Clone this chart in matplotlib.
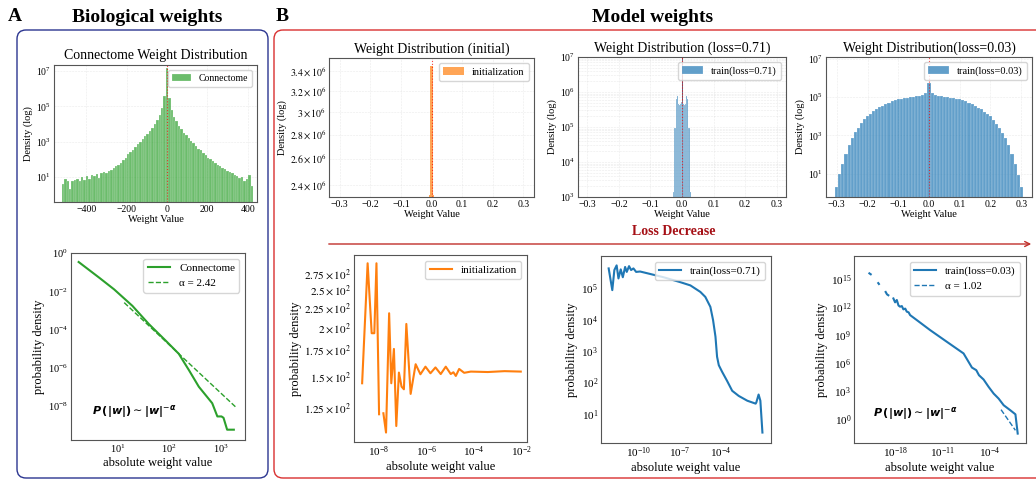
import numpy as np
import matplotlib
matplotlib.use('Agg')
import matplotlib.pyplot as plt
from matplotlib.patches import FancyBboxPatch
from matplotlib.ticker import NullLocator, NullFormatter

plt.rcParams['font.family'] = 'serif'
plt.rcParams['font.serif'] = ['Liberation Serif', 'DejaVu Serif']
plt.rcParams['mathtext.fontset'] = 'stix'

# ---- data: connectome histogram (bin width 12, centred on 0)
conn_centers = np.arange(-516, 421, 12)
conn_counts = [4, 8, 6, 2, 6, 7, 8, 6, 10, 7, 11, 8, 13, 11, 14, 9, 16, 18, 16,
               22, 25, 32, 40, 50, 63, 89, 126, 200, 251, 355, 501, 708, 1000, 1413,
               1995, 2818, 3981, 6310, 10000, 17783, 31623, 79433, 398107,
               15848932,
               316228, 63096, 25119, 14125, 7943, 5012, 3162, 2239, 1585, 1122, 794,
               562, 398, 316, 224, 178, 126, 100, 79, 63, 50, 40, 32, 28, 22, 20, 16,
               13, 11, 9, 10, 6, 8, 13, 3]

# connectome |w| density + power-law fit
conn_abs = [1.76, 4.42, 8.61, 19.5, 40.7, 86.1, 155, 245, 380, 692, 871, 1047, 1148, 1349, 1820]
conn_pdf = [0.339, 0.0513, 0.0126, 1.74e-3, 1.95e-4, 2.69e-5, 5.5e-6, 7.6e-7, 1.05e-7,
            1.45e-8, 2.95e-9, 2.95e-9, 2.5e-9, 6.0e-10, 6.0e-10]
conn_fit_x = [13.5, 1950]
conn_fit_y = [2.57e-3, 9.5e-9]

# model weight histograms
init_centers = [-0.0055, 0.0, 0.0055]
init_counts = [2330000, 3450000, 2330000]
init_widths = [0.003, 0.008, 0.003]

l071_centers = np.arange(-0.027, 0.0271, 0.003)
l071_counts = [1413, 95500, 95500, 631000, 794000, 447000, 417000, 457000, 525000, 437000,
               525000, 457000, 417000, 447000, 794000, 631000, 95500, 95500, 1413]

l003_centers = np.arange(-0.30, 0.3001, 0.01)
l003_counts = [2, 9, 32, 110, 316, 759, 1410, 2510, 4270, 6760, 10000, 13200, 17800, 22900,
               28800, 36300, 43700, 51300, 60300, 69200, 77600, 83200, 89100, 95500, 100000,
               107000, 112000, 120000, 132000, 158000,
               562000,
               155000, 130000, 119000, 111000, 106000, 99000, 94000, 88000, 82000, 77000,
               68000, 59500, 50500, 43000, 35800, 28400, 22500, 17500, 13000, 9800, 6600,
               4150, 2450, 1380, 740, 300, 105, 30, 8, 2]

# |w| densities of the model
init_abs = [2.09e-9, 3.55e-9, 5.25e-9, 6.76e-9, 8.32e-9, 1.07e-8, 1.3e-8, 1.62e-8, 2.09e-8,
            2.82e-8, 3.47e-8, 4.47e-8, 5.62e-8, 7.24e-8, 9.33e-8, 1.17e-7, 1.48e-7, 2.24e-7,
            3.63e-7, 5.75e-7, 9.33e-7, 1.51e-6, 2.45e-6, 4.07e-6, 6.61e-6, 1.07e-5, 1.38e-5,
            1.74e-5, 2.40e-5, 3.89e-5, 7.41e-5, 3.8e-4, 1.9e-3, 9.1e-3]
init_pdf = [143.4, 290.5, 192.5, 192.5, 290.5, 119.5, np.nan, 120.2, 107.3, 216.5, 143.4,
            175.5, 111.5, 152.7, 140.6, 138.4, 203.3, 134.7, 160.4, 151.2, 158.1, 152.1,
            157.4, 151.4, 158.1, 151.4, 153.0, 149.7, 156.0, 152.5, 153.6, 153.2, 154.0, 153.6]

l071_abs = [6.5e-13, 1.2e-12, 1.7e-12, 2.5e-12, 3.4e-12, 5.0e-12, 7.1e-12, 1.05e-11, 1.38e-11,
            2.04e-11, 2.88e-11, 4.27e-11, 6.76e-11, 1.32e-10, 3.09e-10, 6.9e-9, 1.17e-7,
            6.5e-7, 3.5e-6, 8.1e-6, 1.9e-5, 3.0e-5, 4.5e-5, 5.9e-5, 7.9e-5, 1.38e-4, 3.2e-4,
            7.6e-4, 2.3e-3, 9.8e-3, 0.040, 0.045, 0.066, 0.089, 0.126]
l071_pdf = [4.4e5, 8.9e4, 3.9e5, 5.5e5, 2.1e5, 4.1e5, 2.3e5, 4.9e5, 3.4e5, 5.2e5, 3.9e5,
            4.4e5, 3.4e5, 3.5e5, 3.2e5, 2.3e5, 1.6e5, 1.26e5, 7.8e4, 5.4e4, 2.6e4, 9.8e3,
            2.9e3, 660, 355, 219, 112, 54, 37, 26, 21, 23, 41, 26, 2.5]

l003_abs = [1.55e-22, 2.45e-22, 3.0e-22, 3.2e-21, 4.0e-21, 4.5e-21, 4.0e-20, 6.3e-20, 1.0e-19,
            2.0e-19, 5.6e-19, 1.0e-18, 1.8e-18, 3.2e-18, 5.5e-18, 1.0e-17, 1.7e-17, 3.2e-17,
            5.4e-17, 1.0e-16, 1.7e-16, 1.66e-15, 1.6e-13, 4.7e-11, 1.4e-8, 2.45e-7, 1.07e-6,
            2.7e-6, 1.3e-5, 7.2e-5, 4.0e-4, 2.2e-3, 0.0123, 0.12, 0.68, 1.48]
l003_pdf = [4.4e15, 3.5e15, np.nan, 4.0e14, 3.2e14, np.nan, 4.5e13, 2.5e13, 2.0e13, np.nan,
            9.1e12, 3.5e12, 6.2e12, 1.6e12, 1.2e12, 1.4e12, 6.2e11, 7.5e11, 3.5e11, 3.0e11,
            1.5e11, 4.4e10, 3.7e9, 2.1e8, 1.2e7, 3.7e5, 1.95e5, 5.6e4, 1.95e4, 3.2e3, 617,
            178, 34.7, 10, 3.7, 0.032]
l003_fit_x = [5.0e-3, 0.68]
l003_fit_y = [11.7, 0.072]

W, H = 1036, 479
fig = plt.figure(figsize=(W / 100, H / 100), dpi=100)

# background layer in pixel units for the boxes, headings and arrow
bg = fig.add_axes([0, 0, 1, 1])
bg.set_xlim(0, W)
bg.set_ylim(H, 0)
bg.axis('off')
bg.add_patch(FancyBboxPatch((17, 30), 251, 448, boxstyle='round,pad=0,rounding_size=9',
                            fc='none', ec='#2b3590', lw=1.0))
bg.add_patch(FancyBboxPatch((274, 30), 790, 448, boxstyle='round,pad=0,rounding_size=9',
                            fc='none', ec='#d93030', lw=1.0))
bg.text(8, 16, 'A', fontsize=14, fontweight='bold', va='center', ha='left')
bg.text(147, 17, 'Biological weights', fontsize=14, fontweight='bold', va='center', ha='center')
bg.text(276, 16, 'B', fontsize=14, fontweight='bold', va='center', ha='left')
bg.text(653, 17, 'Model weights', fontsize=14, fontweight='bold', va='center', ha='center')
bg.annotate('', xy=(1034, 244), xytext=(326, 244),
            arrowprops=dict(arrowstyle='->', color='#c0302b', lw=1.0, mutation_scale=9))
bg.text(674, 231, 'Loss Decrease', fontsize=10, fontweight='bold', color='#a50f15',
        va='center', ha='center')


def add_ax(x0, y0, x1, y1):
    return fig.add_axes([x0 / W, 1 - y1 / H, (x1 - x0) / W, (y1 - y0) / H])


def style(ax, tick_size):
    for s in ax.spines.values():
        s.set_color('#555555')
        s.set_linewidth(0.8)
    ax.tick_params(which='both', length=0, pad=2, labelsize=tick_size)


def hist_panel(ax, centers, counts, width, color, label, title, leg_size=7.5, edge='white'):
    ax.set_yscale('log')
    ax.bar(centers, counts, width=width, color=color, alpha=0.7, edgecolor=edge,
           linewidth=0.2, label=label)
    ax.axvline(0, color='red', ls=':', lw=0.8, alpha=0.7)
    ax.grid(True, which='both', ls='--', lw=0.4, alpha=0.25)
    ax.set_axisbelow(True)
    ax.set_title(title, fontsize=10, pad=4)
    ax.set_xlabel('Weight Value', fontsize=7.5, labelpad=1)
    ax.set_ylabel('Density (log)', fontsize=7.5, labelpad=2)
    ax.legend(loc='upper right', fontsize=leg_size, fancybox=True, framealpha=0.8)
    style(ax, 7)


# A top
ax = add_ax(54, 65, 257, 202)
hist_panel(ax, conn_centers, conn_counts, 12, 'tab:green', 'Connectome',
           'Connectome Weight Distribution', leg_size=7)
ax.title.set_position((0.5, 1.04))
ax.set_xlim(-560, 446)
ax.set_ylim(0.38, 2.2e7)
ax.set_xticks([-400, -200, 0, 200, 400])
ax.set_yticks([1e1, 1e3, 1e5, 1e7])
ax.yaxis.set_minor_locator(NullLocator())

# A bottom
ax = add_ax(71, 253, 245, 440)
ax.loglog(conn_abs, conn_pdf, color='tab:green', lw=1.5, label='Connectome')
ax.loglog(conn_fit_x, conn_fit_y, color='tab:green', lw=1.0, ls='--', label='α = 2.42')
ax.set_xlim(1.25, 3000)
ax.set_ylim(10 ** -9.76, 10 ** -0.05)
ax.set_xticks([1e1, 1e2, 1e3])
ax.set_yticks([1e0, 1e-2, 1e-4, 1e-6, 1e-8])
ax.xaxis.set_minor_locator(NullLocator())
ax.yaxis.set_minor_locator(NullLocator())
ax.set_xlabel('absolute weight value', fontsize=9, labelpad=1)
ax.set_ylabel('probability density', fontsize=9, labelpad=2)
ax.legend(loc='upper right', fontsize=8)
ax.text(0.12, 0.15, r'$\mathbfit{P}\,\mathbf{(|}\mathbfit{w}\mathbf{|)}\sim\mathbf{|}\mathbfit{w}\mathbf{|}^{-\mathbfit{\alpha}}$',
        transform=ax.transAxes, fontsize=8, math_fontfamily='dejavusans', va='center')
style(ax, 7.5)

# B top row
ax = add_ax(329, 58, 534, 197)
hist_panel(ax, init_centers, init_counts, init_widths, 'tab:orange', 'initialization',
           'Weight Distribution (initial)', edge='none')
ax.set_xlim(-0.335, 0.335)
ax.set_ylim(2.313e6, 3.538e6)
init_ticks = [2.4e6, 2.6e6, 2.8e6, 3.0e6, 3.2e6, 3.4e6]
ax.yaxis.set_minor_locator(NullLocator())
ax.yaxis.set_minor_formatter(NullFormatter())
ax.set_yticks(init_ticks)
ax.set_yticklabels([r'$2.4\times10^{6}$', r'$2.6\times10^{6}$', r'$2.8\times10^{6}$',
                    r'$3\times10^{6}$', r'$3.2\times10^{6}$', r'$3.4\times10^{6}$'])
ax.set_xticks([-0.3, -0.2, -0.1, 0.0, 0.1, 0.2, 0.3])

ax = add_ax(578, 57, 786, 197)
hist_panel(ax, l071_centers, l071_counts, 0.003, 'tab:blue', 'train(loss=0.71)',
           'Weight Distribution (loss=0.71)')
ax.axvline(0, color='#555577', lw=0.7, zorder=0.5)
ax.set_xlim(-0.33, 0.33)
ax.set_ylim(1e3, 1e7)
ax.set_yticks([1e3, 1e4, 1e5, 1e6, 1e7])
ax.set_xticks([-0.3, -0.2, -0.1, 0.0, 0.1, 0.2, 0.3])

ax = add_ax(826, 57, 1032, 197)
hist_panel(ax, l003_centers, l003_counts, 0.01, 'tab:blue', 'train(loss=0.03)',
           'Weight Distribution(loss=0.03)')
ax.set_xlim(-0.335, 0.335)
ax.set_ylim(0.59, 1.26e7)
ax.set_yticks([1e1, 1e3, 1e5, 1e7])
ax.set_xticks([-0.3, -0.2, -0.1, 0.0, 0.1, 0.2, 0.3])

# B bottom row
ax = add_ax(354, 255, 527, 442)
ax.set_xscale('log')
ax.set_yscale('log')
ax.plot(init_abs, init_pdf, color='tab:orange', lw=1.5, label='initialization')
ax.set_xlim(10 ** -9.02, 10 ** -1.78)
ax.set_ylim(101.5, 305)
ax.set_xticks([1e-8, 1e-6, 1e-4, 1e-2])
ax.xaxis.set_minor_locator(NullLocator())
ax.yaxis.set_minor_locator(NullLocator())
ax.yaxis.set_minor_formatter(NullFormatter())
ax.set_yticks([125, 150, 175, 200, 225, 250, 275])
ax.set_yticklabels([r'$1.25\times10^{2}$', r'$1.5\times10^{2}$', r'$1.75\times10^{2}$',
                    r'$2\times10^{2}$', r'$2.25\times10^{2}$', r'$2.5\times10^{2}$',
                    r'$2.75\times10^{2}$'])
ax.set_xlabel('absolute weight value', fontsize=9, labelpad=1)
ax.set_ylabel('probability density', fontsize=9, labelpad=2)
ax.legend(loc='upper right', fontsize=8)
style(ax, 8)

ax = add_ax(601, 256, 771, 443)
ax.loglog(l071_abs, l071_pdf, color='tab:blue', lw=1.5, label='train(loss=0.71)')
ax.set_xlim(10 ** -12.75, 10 ** -0.27)
ax.set_ylim(10 ** 0.064, 10 ** 6.04)
ax.set_xticks([1e-10, 1e-7, 1e-4])
ax.set_yticks([1e1, 1e2, 1e3, 1e4, 1e5])
ax.xaxis.set_minor_locator(NullLocator())
ax.yaxis.set_minor_locator(NullLocator())
ax.set_xlabel('absolute weight value', fontsize=9, labelpad=1)
ax.set_ylabel('probability density', fontsize=9, labelpad=2)
ax.legend(loc='upper right', fontsize=8)
style(ax, 8)

ax = add_ax(854, 256, 1026, 443)
ax.loglog(l003_abs, l003_pdf, color='tab:blue', lw=1.5, label='train(loss=0.03)')
ax.loglog(l003_fit_x, l003_fit_y, color='tab:blue', lw=1.0, ls='--', label='α = 1.02')
ax.set_xlim(10 ** -24.09, 10 ** 1.4)
ax.set_ylim(10 ** -2.5, 10 ** 17.5)
ax.set_xticks([1e-18, 1e-11, 1e-4])
ax.set_yticks([1e0, 1e3, 1e6, 1e9, 1e12, 1e15])
ax.xaxis.set_minor_locator(NullLocator())
ax.yaxis.set_minor_locator(NullLocator())
ax.set_xlabel('absolute weight value', fontsize=9, labelpad=1)
ax.set_ylabel('probability density', fontsize=9, labelpad=2)
ax.legend(loc='upper right', fontsize=8)
ax.text(0.11, 0.16, r'$\mathbfit{P}\,\mathbf{(|}\mathbfit{w}\mathbf{|)}\sim\mathbf{|}\mathbfit{w}\mathbf{|}^{-\mathbfit{\alpha}}$',
        transform=ax.transAxes, fontsize=8, math_fontfamily='dejavusans', va='center')
style(ax, 8)

fig.savefig('out.png', dpi=100)
